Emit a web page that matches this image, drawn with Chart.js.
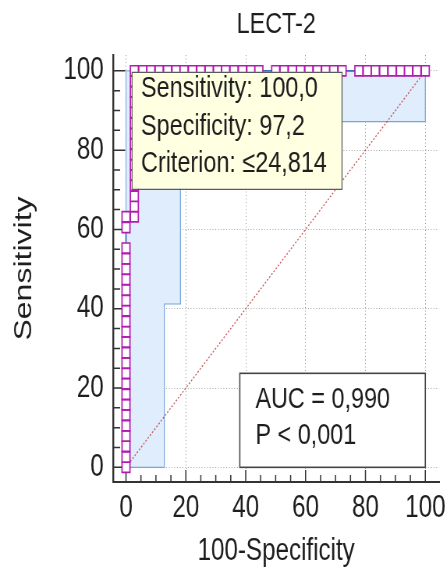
<!DOCTYPE html>
<html>
<head>
<meta charset="utf-8">
<script src="https://cdn.jsdelivr.net/npm/chart.js@4.4.1/dist/chart.umd.min.js"></script>
<style>
  html, body { margin: 0; padding: 0; background: #fff; overflow: hidden; }
  /* the reference figure is horizontally squeezed; draw wide, then squeeze */
  #wrap { width: 572px; height: 574px; transform: scaleX(0.78); transform-origin: 0 0; }
  canvas { display: block; }
</style>
</head>
<body>
<div id="wrap"><canvas id="roc" width="572" height="574"></canvas></div>
<script>
// ROC points (100-Specificity, Sensitivity)
const rocFpr = [
  0, 0, 0, 0, 0, 0, 0, 0, 0, 0, 0, 0, 0, 0, 0, 0, 0, 0, 0, 0, 0, 0, 0, 0,
  2.8, 2.8, 2.8, 2.8, 2.8, 2.8, 2.8, 2.8, 2.8, 2.8, 2.8, 2.8, 2.8, 2.8, 2.8,
  5.6, 8.3, 11.1, 13.9, 16.7, 19.4, 22.2, 25.0, 27.8, 30.6, 33.3, 36.1, 38.9, 41.7, 44.4,
  50.0, 52.8, 55.6, 58.3, 61.1, 63.9, 66.7, 69.4, 72.2,
  77.8, 80.6, 83.3, 86.1, 88.9, 91.7, 94.4, 97.2, 100
];
const rocSens = [
  0, 2.6, 5.3, 7.9, 10.5, 13.2, 15.8, 18.4, 21.1, 23.7, 26.3, 28.9, 31.6, 34.2, 36.8, 39.5,
  42.1, 44.7, 47.4, 50.0, 52.6, 55.3, 60.5, 63.2,
  63.2, 65.8, 68.4, 71.1, 73.7, 76.3, 78.9, 81.6, 84.2, 86.8, 89.5, 92.1, 94.7, 97.4, 100,
  100, 100, 100, 100, 100, 100, 100, 100, 100, 100, 100, 100, 100, 100, 100,
  100, 100, 100, 100, 100, 100, 100, 100, 100,
  100, 100, 100, 100, 100, 100, 100, 100, 100
];

// confidence band of the curve
const ciLowerFpr = [0, 12.8, 12.8, 18.2, 18.2, 100, 100];
const ciLowerSens = [0, 0, 41.2, 41.2, 87.2, 87.2, 100];
const ciUpperFpr = [0, 0, 100];
const ciUpperSens = [0, 100, 100];

const diagFpr = [0, 100];
const diagSens = [0, 100];

const axisTicks = [0, 20, 40, 60, 80, 100];

const criterionPoint = [2.8, 100];
const criterionLines = ['Sensitivity: 100,0', 'Specificity: 97,2', 'Criterion: \u226424,814'];
const aucLines = ['AUC = 0,990', 'P < 0,001'];

const SX = 0.78; // horizontal squeeze applied by the css
const FONT = "'Liberation Sans', Arial, sans-serif";
const TEXT = '#1e1e1e';

function pts(xs, ys) {
    return xs.map((x, i) => ({ x: x, y: ys[i] }));
}

// inward tick marks on both axes (major every 20, minor every 5)
const tickMarks = {
    id: 'tickMarks',
    beforeDatasetsDraw(chart) {
        const { ctx, chartArea, scales } = chart;
        ctx.save();
        ctx.strokeStyle = '#333';
        ctx.lineWidth = 1.5;
        ctx.beginPath();
        for (let v = 0; v <= 100; v += 5) {
            const len = v % 20 === 0 ? 12 : 7;
            const px = scales.x.getPixelForValue(v);
            ctx.moveTo(px, chartArea.bottom);
            ctx.lineTo(px, chartArea.bottom - len);
            const py = scales.y.getPixelForValue(v);
            ctx.moveTo(chartArea.left, py);
            ctx.lineTo(chartArea.left + len / SX, py);
        }
        ctx.stroke();
        ctx.restore();
    }
};

// the two text boxes of the ROC report
const infoBoxes = {
    id: 'infoBoxes',
    afterDatasetsDraw(chart) {
        const { ctx, scales } = chart;
        ctx.save();
        ctx.font = '30px ' + FONT;
        ctx.textBaseline = 'middle';
        ctx.textAlign = 'left';

        // criterion box hangs from the selected point
        const bx = scales.x.getPixelForValue(criterionPoint[0]) - 3;
        const by = scales.y.getPixelForValue(criterionPoint[1]) + 1;
        const bw = 210 / SX;
        ctx.fillStyle = '#ffffe1';
        ctx.fillRect(bx, by, bw, 117);
        ctx.strokeStyle = '#555';
        ctx.lineWidth = 1.2;
        ctx.strokeRect(bx, by + 0.5, bw, 117);
        ctx.fillStyle = TEXT;
        criterionLines.forEach((t, i) => ctx.fillText(t, bx + 11.5, by + 17 + i * 37.5));

        // AUC box sits in the bottom-right corner of the plot
        const rx = scales.x.getPixelForValue(100);
        const ry = scales.y.getPixelForValue(0);
        const w = 185.5 / SX, h = 94;
        ctx.fillStyle = '#fff';
        ctx.fillRect(rx - w, ry - h, w, h);
        ctx.strokeStyle = '#444';
        ctx.lineWidth = 1.6;
        ctx.strokeRect(rx - w, ry - h, w, h);
        ctx.fillStyle = TEXT;
        aucLines.forEach((t, i) => ctx.fillText(t, rx - w + 20, ry - h + 26 + i * 36.5));
        ctx.restore();
    }
};

const setTicks = s => { s.ticks = axisTicks.map(v => ({ value: v })); };

new Chart(document.getElementById('roc'), {
    type: 'line',
    data: {
        datasets: [{
            data: pts(ciLowerFpr, ciLowerSens),
            borderColor: 'rgb(120,165,215)',
            borderWidth: 1.2,
            backgroundColor: 'rgb(224,237,252)',
            fill: { value: 100 },
            pointRadius: 0,
            order: 4
        }, {
            data: pts(ciUpperFpr, ciUpperSens),
            borderColor: 'rgb(150,185,225)',
            borderWidth: 1.4,
            fill: false,
            pointRadius: 0,
            order: 3
        }, {
            data: pts(diagFpr, diagSens),
            borderColor: 'rgba(190,60,60,0.85)',
            borderWidth: 1.3,
            borderDash: [2, 2],
            fill: false,
            pointRadius: 0,
            order: 2
        }, {
            data: pts(rocFpr, rocSens),
            borderColor: 'rgb(60,110,180)',
            borderWidth: 1.6,
            fill: false,
            pointStyle: 'rect',
            pointRadius: 7.2,
            pointBorderColor: '#b01cb0',
            pointBorderWidth: 1.7,
            pointBackgroundColor: '#fff',
            order: 1
        }]
    },
    options: {
        responsive: false,
        animation: false,
        events: [],
        layout: { padding: { left: 0, right: 8, top: 0, bottom: 0 } },
        plugins: {
            legend: { display: false },
            tooltip: { enabled: false }
        },
        scales: {
            x: {
                type: 'linear',
                min: -4.3,
                max: 104.65,
                afterBuildTicks: setTicks,
                afterFit: s => { s.height = 92; s.paddingLeft = 0; s.paddingRight = 0; },
                grid: { color: '#999', lineWidth: 1, drawTicks: false },
                border: { display: true, color: '#333', width: 2, dash: [1, 2.5] },
                ticks: { padding: 8, color: TEXT, font: { family: FONT, size: 31 } },
                title: {
                    display: true, text: '100-Specificity', color: TEXT,
                    font: { family: FONT, size: 31 }, padding: { top: 0, bottom: 4 }
                }
            },
            x2: {
                type: 'linear',
                position: 'top',
                min: -4.3,
                max: 104.65,
                afterFit: s => { s.height = 55; s.paddingLeft = 0; s.paddingRight = 0; },
                grid: { display: false },
                border: { display: false },
                ticks: { display: false },
                title: {
                    display: true, text: 'LECT-2', color: TEXT,
                    font: { family: FONT, size: 30 }, padding: { top: 7, bottom: 0 }
                }
            },
            y: {
                type: 'linear',
                min: -3.7,
                max: 104,
                afterBuildTicks: setTicks,
                afterFit: s => { s.width = 145; s.paddingTop = 0; s.paddingBottom = 0; },
                grid: { color: '#999', lineWidth: 1, drawTicks: false },
                border: { display: true, color: '#333', width: 2.4, dash: [1, 2.5] },
                ticks: { padding: 12, color: TEXT, font: { family: FONT, size: 31 } },
                title: {
                    display: true, text: 'Sensitivity', color: TEXT,
                    font: { family: FONT, size: 32 },
                    padding: { top: 12, bottom: 0 }
                }
            }
        }
    },
    plugins: [tickMarks, infoBoxes]
});
</script>
</body>
</html>
